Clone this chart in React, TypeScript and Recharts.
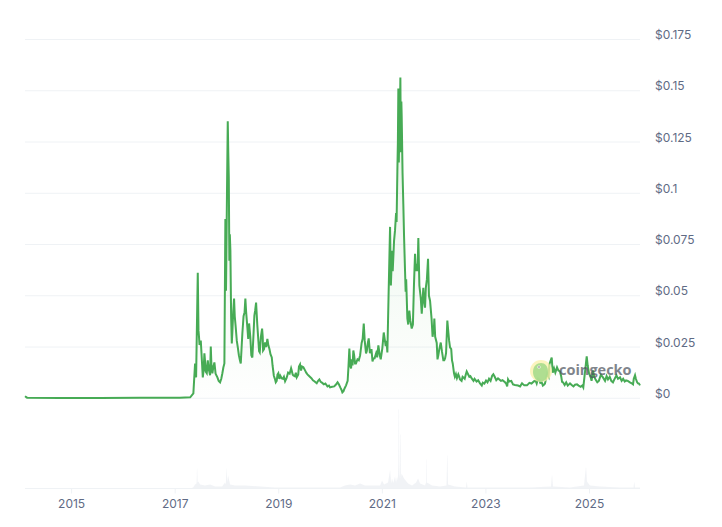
import { Area, CartesianGrid, ComposedChart, XAxis, YAxis } from "recharts";

const yearTicks = [2015, 2017, 2019, 2021, 2023, 2025];
const priceTicks = [0, 0.025, 0.05, 0.075, 0.1, 0.125, 0.15, 0.175];
const priceLabels = ["$0", "$0.025", "$0.05", "$0.075", "$0.1", "$0.125", "$0.15", "$0.175"];

// decimal years: main turning points
const priceYears = [
  2014.1, 2014.14, 2014.78, 2015.55, 2016.32, 2017.09, 2017.29, 2017.351, 2017.384, 2017.404, 2017.436, 2017.461,
  2017.494, 2017.533, 2017.564, 2017.61, 2017.629, 2017.674, 2017.687, 2017.718, 2017.757, 2017.815, 2017.867,
  2017.911, 2017.95, 2017.969, 2017.981, 2018.015, 2018.035, 2018.046, 2018.066, 2018.093, 2018.137, 2018.166,
  2018.209, 2018.266, 2018.297, 2018.355, 2018.394, 2018.427, 2018.49, 2018.529, 2018.562, 2018.606, 2018.633,
  2018.678, 2018.697, 2018.736, 2018.799, 2018.865, 2018.942, 2018.992, 2019.058, 2019.122, 2019.238, 2019.282,
  2019.347, 2019.411, 2019.475, 2019.571, 2019.687, 2019.733, 2019.784, 2019.99, 2020.135, 2020.228, 2020.299,
  2020.363, 2020.396, 2020.44, 2020.473, 2020.57, 2020.641, 2020.685, 2020.737, 2020.826, 2020.923, 2020.969,
  2021.027, 2021.097, 2021.149, 2021.187, 2021.226, 2021.265, 2021.29, 2021.309, 2021.328, 2021.348, 2021.367,
  2021.38, 2021.405, 2021.419, 2021.438, 2021.483, 2021.521, 2021.567, 2021.631, 2021.664, 2021.695, 2021.741,
  2021.761, 2021.791, 2021.824, 2021.882, 2021.921, 2021.985, 2022.004, 2022.081, 2022.128, 2022.178, 2022.211,
  2022.255, 2022.307, 2022.359, 2022.384, 2022.467, 2022.5, 2022.564, 2022.629, 2022.726, 2022.886, 2023.002,
  2023.143, 2023.234, 2023.369, 2023.427, 2023.523, 2023.697, 2023.793, 2023.929, 2024.006, 2024.077, 2024.141,
  2024.224, 2024.27, 2024.315, 2024.373, 2024.43, 2024.488, 2024.623, 2024.759, 2024.88, 2024.946, 2024.99,
  2025.067, 2025.15, 2025.26, 2025.357, 2025.453, 2025.589, 2025.705, 2025.815, 2025.879, 2025.936, 2025.975,
];
const priceValues = [
  0.001, 0.0003, 0.0002, 0.0002, 0.0003, 0.0003, 0.0005, 0.0024, 0.017, 0.0102, 0.0612, 0.0296,
  0.0282, 0.0102, 0.0219, 0.0122, 0.0185, 0.0112, 0.0253, 0.0122, 0.0175, 0.0102, 0.0078,
  0.0122, 0.017, 0.0875, 0.0525, 0.1351, 0.1074, 0.0671, 0.0719, 0.0267, 0.0486, 0.0355,
  0.0248, 0.017, 0.0316, 0.0486, 0.0345, 0.0365, 0.0199, 0.0403, 0.0467, 0.0282, 0.0224,
  0.034, 0.0233, 0.0272, 0.0258, 0.0199, 0.0078, 0.0122, 0.0097, 0.0083, 0.0146, 0.0112,
  0.0102, 0.0165, 0.0151, 0.0112, 0.0083, 0.0073, 0.0092, 0.0053, 0.0078, 0.0029, 0.0063,
  0.0243, 0.0146, 0.0233, 0.017, 0.0209, 0.0365, 0.0219, 0.0292, 0.0194, 0.0258, 0.019,
  0.0321, 0.0224, 0.0836, 0.0719, 0.0768, 0.0904, 0.1108, 0.1511, 0.1302, 0.1565, 0.1448,
  0.1268, 0.0948, 0.0792, 0.0622, 0.0389, 0.0428, 0.034, 0.0705, 0.0656, 0.0782, 0.0491,
  0.0413, 0.0539, 0.0442, 0.068, 0.0476, 0.033, 0.0389, 0.0209, 0.0272, 0.0185, 0.0194,
  0.0379, 0.0248, 0.017, 0.0122, 0.0117, 0.0092, 0.0102, 0.0131, 0.0097, 0.0073, 0.0087,
  0.0117, 0.0097, 0.0078, 0.0092, 0.0068, 0.0073, 0.0063, 0.0083, 0.0097, 0.0078, 0.0073,
  0.0165, 0.0199, 0.0146, 0.0151, 0.0131, 0.0078, 0.0073, 0.0068, 0.0053, 0.0204, 0.0122,
  0.0136, 0.0078, 0.0102, 0.0092, 0.0078, 0.0102, 0.0087, 0.0073, 0.0112, 0.0073, 0.0063,
];

// smaller wiggles between the turning points
const wiggleYears = [
  2017.45, 2017.47, 2017.51, 2017.55, 2017.58, 2017.59, 2017.65, 2017.7, 2017.735, 2017.78, 2017.84, 2017.89, 2017.93,
  2018.0, 2018.025, 2018.055, 2018.08, 2018.105, 2018.12, 2018.15, 2018.19, 2018.23, 2018.25, 2018.285, 2018.32, 2018.34,
  2018.37, 2018.41, 2018.45, 2018.47, 2018.51, 2018.545, 2018.585, 2018.62, 2018.655, 2018.69, 2018.715, 2018.755, 2018.78,
  2018.82, 2018.84, 2018.88, 2018.905, 2018.925, 2018.96, 2018.975, 2019.01, 2019.03, 2019.08, 2019.1, 2019.15, 2019.18,
  2019.21, 2019.25, 2019.27, 2019.31, 2019.33, 2019.375, 2019.39, 2019.43, 2019.45, 2019.51, 2019.53, 2019.55, 2019.6,
  2019.63, 2019.66, 2019.71, 2019.76, 2019.81, 2019.84, 2019.87, 2019.9, 2019.94, 2019.97, 2020.03, 2020.07, 2020.1,
  2020.16, 2020.19, 2020.21, 2020.25, 2020.27, 2020.33, 2020.345, 2020.38, 2020.41, 2020.425, 2020.455, 2020.49, 2020.52,
  2020.545, 2020.6, 2020.62, 2020.66, 2020.7, 2020.72, 2020.76, 2020.79, 2020.81, 2020.85, 2020.88, 2020.9, 2020.95,
  2021.0, 2021.045, 2021.065, 2021.08, 2021.12, 2021.165, 2021.2, 2021.245, 2021.275, 2021.3, 2021.318, 2021.338, 2021.358,
  2021.373, 2021.39, 2021.45, 2021.46, 2021.5, 2021.54, 2021.59, 2021.61, 2021.645, 2021.68, 2021.715, 2021.775, 2021.805,
  2021.84, 2021.86, 2021.9, 2021.95, 2021.97, 2021.995, 2022.02, 2022.05, 2022.065, 2022.1, 2022.15, 2022.195, 2022.23,
  2022.275, 2022.29, 2022.33, 2022.345, 2022.4, 2022.42, 2022.44, 2022.485, 2022.53, 2022.55, 2022.59, 2022.61, 2022.66,
  2022.68, 2022.7, 2022.76, 2022.78, 2022.82, 2022.85, 2022.92, 2022.94, 2022.97, 2023.03, 2023.06, 2023.09, 2023.12,
  2023.17, 2023.2, 2023.26, 2023.29, 2023.32, 2023.39, 2023.41, 2023.45, 2023.49, 2023.56, 2023.62, 2023.66, 2023.74,
  2023.84, 2023.88, 2023.96, 2023.98, 2024.03, 2024.05, 2024.1, 2024.13, 2024.18, 2024.21, 2024.29, 2024.3, 2024.34, 2024.4,
  2024.455, 2024.47, 2024.52, 2024.55, 2024.58, 2024.65, 2024.69, 2024.72, 2024.79, 2024.83, 2024.86, 2024.965, 2025.02,
  2025.04, 2025.09, 2025.12, 2025.18, 2025.22, 2025.3, 2025.33, 2025.39, 2025.42, 2025.48, 2025.52, 2025.55, 2025.62,
  2025.65, 2025.68, 2025.74, 2025.78, 2025.84, 2025.855, 2025.895, 2025.92, 2025.955,
];
const wiggleValues = [
  0.033, 0.026, 0.021, 0.014, 0.017, 0.013, 0.014, 0.016, 0.015, 0.012, 0.0085, 0.0095, 0.015,
  0.1, 0.12, 0.08, 0.04, 0.033, 0.042, 0.04, 0.028, 0.021, 0.0185, 0.026, 0.04, 0.042,
  0.042, 0.029, 0.03, 0.021, 0.03, 0.043, 0.036, 0.023, 0.03, 0.03, 0.024, 0.025, 0.029,
  0.024, 0.0215, 0.016, 0.011, 0.0095, 0.0085, 0.0115, 0.0095, 0.011, 0.0095, 0.0105, 0.0098, 0.0125,
  0.012, 0.0135, 0.0115, 0.0108, 0.0125, 0.0115, 0.0155, 0.0135, 0.0155, 0.0135, 0.0125, 0.0118, 0.0105,
  0.0098, 0.0088, 0.0078, 0.0085, 0.008, 0.0075, 0.0068, 0.0072, 0.0058, 0.0062, 0.0056, 0.0058, 0.0066,
  0.0068, 0.0052, 0.0042, 0.0035, 0.0048, 0.0085, 0.015, 0.016, 0.019, 0.016, 0.021, 0.017, 0.019,
  0.0185, 0.027, 0.029, 0.028, 0.023, 0.027, 0.022, 0.024, 0.018, 0.0195, 0.022, 0.02, 0.021,
  0.0245, 0.029, 0.0255, 0.028, 0.05, 0.055, 0.062, 0.082, 0.086, 0.125, 0.115, 0.135, 0.12,
  0.138, 0.11, 0.052, 0.058, 0.036, 0.038, 0.036, 0.055, 0.062, 0.062, 0.055, 0.047, 0.048,
  0.054, 0.058, 0.05, 0.039, 0.03, 0.034, 0.03, 0.027, 0.019, 0.024, 0.023, 0.0185, 0.022,
  0.032, 0.028, 0.024, 0.0185, 0.0105, 0.0118, 0.0098, 0.0105, 0.0085, 0.0105, 0.0095, 0.0115, 0.0115,
  0.0105, 0.0108, 0.0085, 0.0095, 0.0082, 0.0088, 0.0062, 0.0076, 0.0072, 0.0078, 0.0095, 0.0085, 0.011,
  0.0105, 0.0088, 0.0092, 0.0085, 0.0088, 0.0072, 0.0058, 0.0082, 0.0085, 0.0065, 0.0062, 0.0058, 0.0063,
  0.0075, 0.0072, 0.0085, 0.0072, 0.0092, 0.0075, 0.0062, 0.0068, 0.012, 0.0105, 0.0125, 0.0135, 0.0125, 0.0135,
  0.0105, 0.008, 0.0065, 0.0078, 0.0062, 0.0066, 0.0058, 0.0066, 0.0062, 0.0056, 0.0062, 0.016, 0.0105,
  0.0085, 0.0105, 0.009, 0.0085, 0.0115, 0.0085, 0.0108, 0.0105, 0.0085, 0.0092, 0.0112, 0.0095, 0.0085,
  0.0095, 0.0082, 0.0085, 0.0078, 0.0068, 0.0095, 0.0095, 0.0078, 0.0072,
];

const volumeYears = [
  2014.1, 2017.29, 2017.346, 2017.384, 2017.413, 2017.421, 2017.425, 2017.434, 2017.446, 2017.481, 2017.577, 2017.674, 2017.77, 2017.905,
  2017.963, 2017.978, 2017.99, 2017.994, 2018.005, 2018.021, 2018.06, 2018.156, 2018.349, 2018.639, 2018.929, 2019.411, 2020.184, 2020.28, 2020.377,
  2020.473, 2020.57, 2020.666, 2020.956, 2020.994, 2021.033, 2021.11, 2021.147, 2021.151, 2021.17, 2021.187, 2021.21, 2021.245, 2021.265, 2021.284, 2021.3, 2021.309,
  2021.313, 2021.322, 2021.326, 2021.335, 2021.344, 2021.352, 2021.358, 2021.371, 2021.419, 2021.497, 2021.574, 2021.651, 2021.69, 2021.728, 2021.824, 2021.844,
  2021.847, 2021.853, 2021.859, 2021.959, 2022.114, 2022.239, 2022.252, 2022.258, 2022.268, 2022.403, 2022.615, 2022.629, 2022.644, 2023.079,
  2023.851, 2024.256, 2024.274, 2024.279, 2024.295, 2024.623, 2024.893, 2024.93, 2024.935, 2024.951, 2025.009, 2025.202, 2025.589, 2025.849,
  2025.865, 2025.879, 2025.975,
];
const volumeValues = [
  0, 0, 20, 80, 100, 400, 400, 120, 140, 80, 60, 80, 40, 40,
  120, 80, 400, 400, 120, 260, 80, 60, 60, 40, 20, 20, 20, 60, 80,
  60, 100, 60, 60, 160, 80, 120, 360, 360, 100, 200, 110, 240, 120, 240, 160, 500,
  1580, 1580, 300, 200, 1080, 1080, 200, 300, 200, 100, 60, 120, 200, 100, 60, 120,
  580, 580, 120, 60, 40, 60, 660, 660, 80, 40, 20, 140, 20, 20,
  20, 40, 260, 260, 40, 20, 60, 420, 420, 140, 60, 40, 20, 20,
  140, 20, 20,
];

const rows = new Map<number, { year: number; price?: number; volume?: number }>();
priceYears.forEach((year, i) => rows.set(year, { year, price: priceValues[i] }));
wiggleYears.forEach((year, i) => rows.set(year, { year, price: wiggleValues[i] }));
volumeYears.forEach((year, i) => rows.set(year, { ...rows.get(year), year, volume: volumeValues[i] }));
const chartData = [...rows.values()].sort((a, b) => a.year - b.year);

const AXIS_FONT = "Inter, sans-serif";
const GRID = "#eff2f5";
const LABEL = "#5f6b85";

function PriceTick({ y, payload }: any) {
  const label = priceLabels[priceTicks.indexOf(payload.value)];
  return (
    <text x={655} y={y - 4.6} dy="0.36em" fontFamily={AXIS_FONT} fontSize={12} fill={LABEL}>
      {label}
    </text>
  );
}

// CoinGecko watermark sitting over the plot
function Watermark() {
  return (
    <svg width={722} height={527} style={{ position: "absolute", left: 0, top: 0, pointerEvents: "none" }}>
      <circle cx={541} cy={371} r={11} fill="#f9f0a8" opacity={0.75} />
      <path d="M533 372c0-6 4-9 8-9s7 3 7 9c0 5-3 9-7 10c-4-1-8-4-8-10z" fill="#a6dc8c" opacity={0.9} />
      <circle cx={539} cy={367} r={1.6} fill="#ffffff" />
      <circle cx={539} cy={367} r={0.8} fill="#666666" />
      <text x={559} y={375} fontFamily="'Open Sans', sans-serif" fontWeight={700} fontSize={14.5} fill="#4f5560" opacity={0.72}>
        coingecko
      </text>
    </svg>
  );
}

export default function App() {
  return (
    <div style={{ position: "absolute", left: 0, top: 0, width: 722, height: 527, background: "#fff" }}>
      <ComposedChart
        width={722}
        height={527}
        data={chartData}
        margin={{ top: 39.5, right: 0, bottom: 0, left: 25 }}
      >
        <defs>
          <linearGradient id="priceFill" x1="0" y1="0" x2="0" y2="1">
            <stop offset="0%" stopColor="#4caf50" stopOpacity={0.24} />
            <stop offset="100%" stopColor="#4caf50" stopOpacity={0.01} />
          </linearGradient>
        </defs>
        <CartesianGrid yAxisId="price" vertical={false} stroke={GRID} />
        <XAxis
          dataKey="year"
          type="number"
          domain={[2014.1, 2025.975]}
          ticks={yearTicks}
          height={38.5}
          stroke={GRID}
          tickSize={5}
          tickMargin={6}
          tick={{ fontFamily: AXIS_FONT, fontSize: 12, fill: LABEL }}
          tickFormatter={(v: number) => String(v)}
          interval={0}
        />
        <YAxis
          yAxisId="price"
          orientation="right"
          width={82}
          domain={[-0.044, 0.175]}
          ticks={priceTicks}
          axisLine={false}
          tickLine={false}
          tick={<PriceTick />}
          interval={0}
        />
        <YAxis yAxisId="volume" hide domain={[0, 8980]} />
        <Area
          yAxisId="volume"
          dataKey="volume"
          type="linear"
          connectNulls
          stroke="none"
          fill="#eef1f4"
          fillOpacity={0.85}
          dot={false}
          activeDot={false}
          isAnimationActive={false}
        />
        <Area
          yAxisId="price"
          dataKey="price"
          type="linear"
          connectNulls
          baseValue={0}
          stroke="#47ab55"
          strokeWidth={2}
          fill="url(#priceFill)"
          dot={false}
          activeDot={false}
          isAnimationActive={false}
        />
      </ComposedChart>
      <Watermark />
    </div>
  );
}
